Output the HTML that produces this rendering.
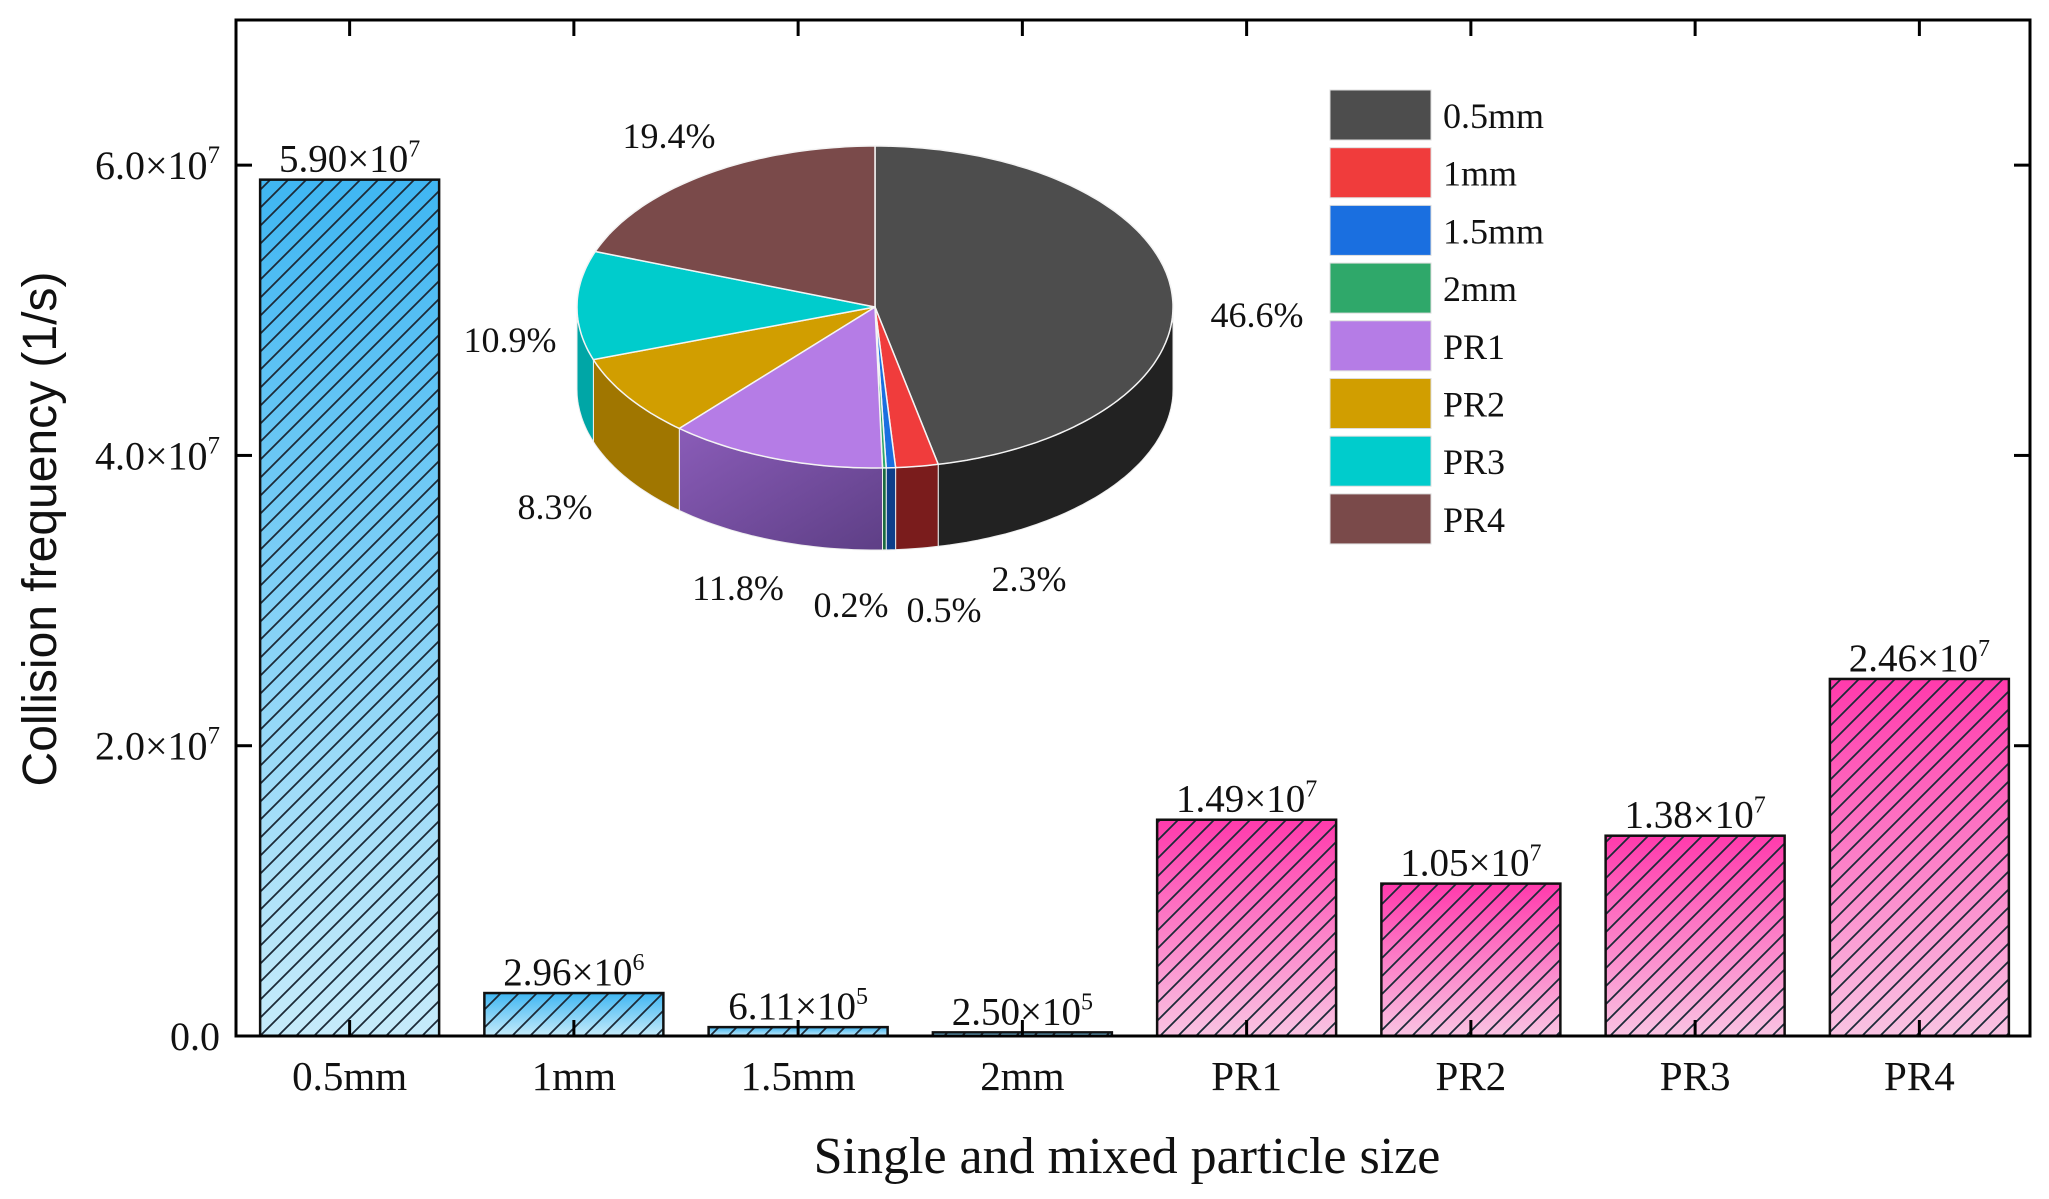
<!DOCTYPE html>
<html><head><meta charset="utf-8"><style>
html,body{margin:0;padding:0;background:#fff;}
svg{display:block;}
text{font-family:"Liberation Serif","DejaVu Serif",serif;fill:#111;}
</style></head><body>
<svg id="chart" width="2049" height="1199" viewBox="0 0 2049 1199" xmlns="http://www.w3.org/2000/svg">
<defs>
<linearGradient id="gBlue" x1="0" y1="0" x2="0" y2="1"><stop offset="0" stop-color="#3fb6f2"/><stop offset="1" stop-color="#c6ebfa"/></linearGradient>
<linearGradient id="gPink" x1="0" y1="0" x2="0" y2="1"><stop offset="0" stop-color="#ff3aac"/><stop offset="1" stop-color="#f9c3e2"/></linearGradient>
<pattern id="hatch" patternUnits="userSpaceOnUse" width="18" height="18">
<path d="M-2,2 L2,-2 M0,18 L18,0 M16,20 L20,16" stroke="#1c2a38" stroke-width="1.8"/>
</pattern>
<linearGradient id="gPurpleSide" x1="0" y1="0" x2="1" y2="1"><stop offset="0" stop-color="#8a5cb8"/><stop offset="1" stop-color="#5e3f86"/></linearGradient>
</defs>
<g id="bars"></g>
<g id="pie"></g>
<g id="legend"></g>
<g id="axes"></g>
</svg>
<script>
const categories = ["0.5mm","1mm","1.5mm","2mm","PR1","PR2","PR3","PR4"];
const values = [5.90e7, 2.96e6, 6.11e5, 2.50e5, 1.49e7, 1.05e7, 1.38e7, 2.46e7];
const valueMantissa = ["5.90","2.96","6.11","2.50","1.49","1.05","1.38","2.46"];
const valueExponent = ["7","6","5","5","7","7","7","7"];
const yTicks = [0, 2e7, 4e7, 6e7];
const yTickMantissa = ["0.0","2.0","4.0","6.0"];
const pieLabels = ["0.5mm","1mm","1.5mm","2mm","PR1","PR2","PR3","PR4"];
const piePercents = [46.6, 2.3, 0.5, 0.2, 11.8, 8.3, 10.9, 19.4];

const NS = "http://www.w3.org/2000/svg";
function mk(tag, attrs, parent){const e=document.createElementNS(NS,tag);for(const k in attrs)e.setAttribute(k,attrs[k]);parent.appendChild(e);return e;}
const L=236, R=2030, T=20, B=1036, YMAX=7.0e7;
const y = v => B - (v/YMAX)*(B-T);
const band = (R-L)/categories.length;
const xc = i => L + band*(i+0.5) + 1.5;
const BW = 179;

const gb = document.getElementById('bars');
categories.forEach((c,i)=>{
  const x0 = xc(i)-BW/2, yt = y(values[i]), h = B-yt;
  const fill = i<4 ? 'url(#gBlue)' : 'url(#gPink)';
  const r = mk('rect',{x:x0,y:yt,width:BW,height:Math.max(h,1.5),fill:fill},gb);
  
  
  const hr = mk('rect',{x:x0,y:yt,width:BW,height:Math.max(h,1.5),fill:'url(#hatch)',stroke:'#111','stroke-width':2.5},gb);
  
  
  const t = mk('text',{x:xc(i),y:yt-8,'text-anchor':'middle','font-size':39},gb);
  
  
  t.textContent = valueMantissa[i]+'×10';
  const s = mk('tspan',{dy:-15,'font-size':24},t); s.textContent=valueExponent[i];
});

// axes
const ga = document.getElementById('axes');
const fr = mk('rect',{x:L,y:T,width:R-L,height:B-T,fill:'none',stroke:'#000','stroke-width':3},ga);


yTicks.forEach((v,i)=>{
  const yy=y(v);
  if(i>0){
    const t1=mk('line',{x1:L,x2:L+16,y1:yy,y2:yy,stroke:'#000','stroke-width':3},ga);
    
    
    const t2=mk('line',{x1:R,x2:R-16,y1:yy,y2:yy,stroke:'#000','stroke-width':3},ga);
    
    
  }
  const lb=mk('text',{x:L-16,y:yy+14,'text-anchor':'end','font-size':40},ga);
  
  
  lb.textContent=yTickMantissa[i]+(v===0?'':'×10');
  if(v!==0){const s=mk('tspan',{dy:-16,'font-size':25},lb);s.textContent='7';}
});
categories.forEach((c,i)=>{
  const t1=mk('line',{x1:xc(i),x2:xc(i),y1:B,y2:B-16,stroke:'#000','stroke-width':3},ga);
  
  
  const t2=mk('line',{x1:xc(i),x2:xc(i),y1:T,y2:T+16,stroke:'#000','stroke-width':3},ga);
  
  
  const lb=mk('text',{x:xc(i),y:1090,'text-anchor':'middle','font-size':41},ga);
  
  
  lb.textContent=c;
});
const xt=mk('text',{x:1127,y:1173,'text-anchor':'middle','font-size':52},ga);


xt.textContent='Single and mixed particle size';
const yt=mk('text',{x:0,y:0,'text-anchor':'middle','font-size':48,transform:'translate(56,529) rotate(-90)',style:'font-family:"Liberation Sans","DejaVu Sans",sans-serif'},ga);


yt.textContent='Collision frequency (1/s)';

// pie
const pieColors=["#4d4d4d","#f03c3c","#1a6fe0","#2fa86a","#b57ce6","#d19e00","#00cccc","#7a4a4a"];
const sideColors=["#222222","#7a1c1c","#0d3f8a","#1a6a40","url(#gPurpleSide)","#a07600","#00a6a6","#553030"];
const gp=document.getElementById('pie');
const cx=875, cy=307, rx=298, ry=161, depth=82;
const pt=(a,dy)=>[cx+rx*Math.sin(a), cy-ry*Math.cos(a)+(dy||0)];
let acc=0; const angles=[];
const total=piePercents.reduce((a,b)=>a+b,0);
piePercents.forEach(p=>{const a0=acc/total*2*Math.PI; acc+=p; angles.push([a0,acc/total*2*Math.PI]);});
function arcPts(a0,a1,dy){const n=Math.max(2,Math.ceil((a1-a0)/0.02));const r=[];for(let k=0;k<=n;k++){r.push(pt(a0+(a1-a0)*k/n,dy));}return r;}
angles.forEach(([a0,a1],i)=>{
  const s=Math.max(a0,Math.PI/2), e=Math.min(a1,1.5*Math.PI);
  if(e<=s) return;
  const top=arcPts(s,e,0), bot=arcPts(s,e,depth).reverse();
  const d='M'+top.concat(bot).map(p=>p[0].toFixed(1)+','+p[1].toFixed(1)).join(' L')+' Z';
  const p=mk('path',{d:d,fill:sideColors[i],stroke:'#eee','stroke-width':1},gp);
  
  
});
angles.forEach(([a0,a1],i)=>{
  const pts=arcPts(a0,a1,0);
  const d='M'+cx+','+cy+' L'+pts.map(p=>p[0].toFixed(1)+','+p[1].toFixed(1)).join(' L')+' Z';
  const p=mk('path',{d:d,fill:pieColors[i],stroke:'#f4f4f4','stroke-width':1.5},gp);
  
  
});
const pctPos=[[1257,327],[1029,591],[944,622],[851,617],[738,600],[555,519],[510,352],[669,148]];
piePercents.forEach((p,i)=>{
  const t=mk('text',{x:pctPos[i][0],y:pctPos[i][1],'text-anchor':'middle','font-size':36},gp);
  
  
  t.textContent=p.toFixed(1)+'%';
});

// legend
const gl=document.getElementById('legend');
pieLabels.forEach((lab,i)=>{
  const yy=115+i*57.7;
  const r=mk('rect',{x:1330,y:yy-25,width:101,height:50,fill:pieColors[i],stroke:'#ddd','stroke-width':1},gl);
  
  
  const t=mk('text',{x:1443,y:yy+13,'font-size':36},gl);
  
  
  t.textContent=lab;
});
</script>
</body></html>
